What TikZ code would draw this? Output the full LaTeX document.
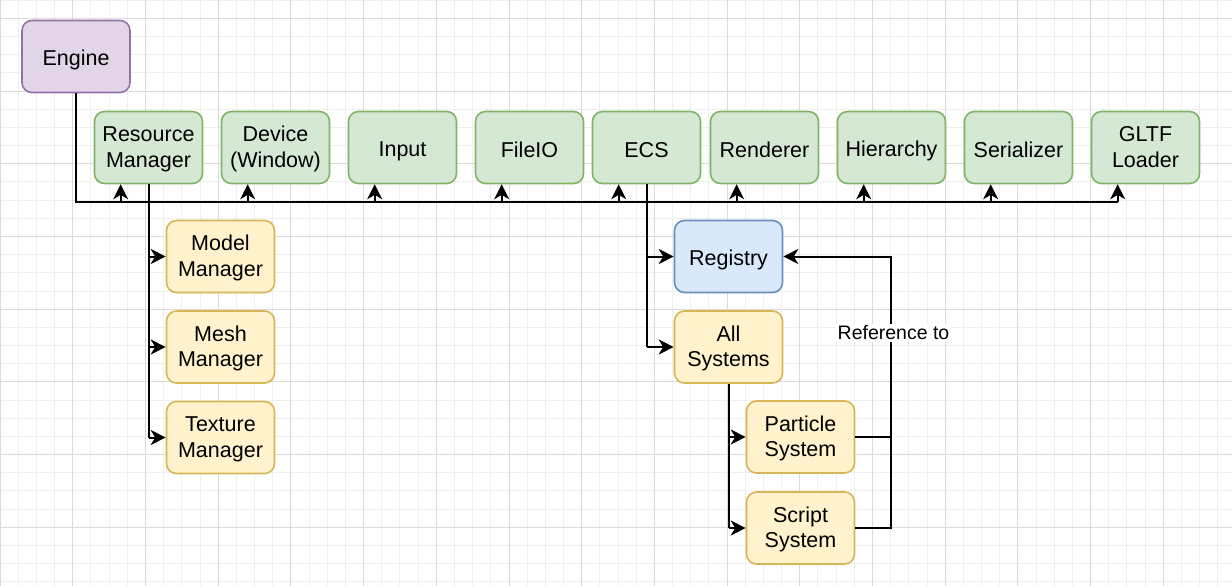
\documentclass[tikz,border=0pt]{standalone}
\usepackage{fontspec}
\setmainfont{Liberation Sans}
\usetikzlibrary{arrows.meta,calc}
\definecolor{gminor}{HTML}{EFEFEF}
\definecolor{gmajor}{HTML}{DADADA}
\definecolor{pfill}{HTML}{E1D5E7}\definecolor{pline}{HTML}{9673A6}
\definecolor{gfill}{HTML}{D5E8D4}\definecolor{gline}{HTML}{82B366}
\definecolor{yfill}{HTML}{FFF2CC}\definecolor{yline}{HTML}{D6B656}
\definecolor{bfill}{HTML}{DAE8FC}\definecolor{bline}{HTML}{6C8EBF}
\newcommand{\boxstrut}{\rule[-2.5pt]{0pt}{24pt}}
\newcommand{\tworows}[2]{\raisebox{-2pt}[\height][\depth]{\begin{tabular}{@{}c@{}}#1\\#2\end{tabular}}}
\tikzset{
  box/.style={rounded corners=10pt, line width=1.6pt, minimum width=108pt, minimum height=72pt,
    align=center, inner sep=2pt, font=\fontsize{21.5}{25.6}\selectfont,
    execute at begin node=\boxstrut, execute at end node=\boxstrut},
  purplebox/.style={box, fill=pfill, draw=pline},
  greenbox/.style={box, fill=gfill, draw=gline},
  yellowbox/.style={box, fill=yfill, draw=yline},
  bluebox/.style={box, fill=bfill, draw=bline},
  conn/.style={line width=2pt, draw=black},
  arr/.style={conn, -{Stealth[length=15pt, width=15pt, inset=4.5pt]}},
  lbl/.style={fill=white, inner sep=2pt, font=\fontsize{19.5}{23}\selectfont}
}
\begin{document}
\begin{tikzpicture}[x=1pt,y=-1pt]
\useasboundingbox (0,0) rectangle (1232,586);
\fill[white] (0,0) rectangle (1232,586);
% grid
\foreach \i in {0,...,68} \draw[gminor, line width=0.8pt] ({\i*18.175},0) -- ({\i*18.175},586);
\foreach \i in {-1,...,32} \draw[gminor, line width=0.8pt] (0,{18.3+\i*18.175}) -- (1232,{18.3+\i*18.175});
\foreach \i in {0,...,17} \draw[gmajor, line width=0.8pt] ({\i*72.7},0) -- ({\i*72.7},586);
\foreach \i in {0,...,8} \draw[gmajor, line width=0.8pt] (0,{18.3+\i*72.7}) -- (1232,{18.3+\i*72.7});

% nodes
\node[purplebox] (engine) at (76,56.5) {Engine};
\node[greenbox] (rm) at (148.5,147.5) {\tworows{Resource}{Manager}};
\node[greenbox] (dev) at (275.5,147.5) {\tworows{Device}{(Window)}};
\node[greenbox] (input) at (402.5,147.5) {Input};
\node[greenbox] (fileio) at (529.5,147.5) {FileIO};
\node[greenbox] (ecs) at (646.5,147.5) {ECS};
\node[greenbox] (rend) at (764.5,147.5) {Renderer};
\node[greenbox] (hier) at (891.5,147.5) {Hierarchy};
\node[greenbox] (ser) at (1018.5,147.5) {Serializer};
\node[greenbox] (gltf) at (1145.5,147.5) {\tworows{GLTF}{Loader}};

\node[yellowbox] (model) at (220.5,256.5) {\tworows{Model}{Manager}};
\node[yellowbox] (mesh) at (220.5,347) {\tworows{Mesh}{Manager}};
\node[yellowbox] (tex) at (220.5,437.5) {\tworows{Texture}{Manager}};

\node[bluebox] (reg) at (728.5,256.5) {Registry};
\node[yellowbox] (all) at (728.5,347) {\tworows{All}{Systems}};
\node[yellowbox] (part) at (800.5,437) {\tworows{Particle}{System}};
\node[yellowbox] (script) at (800.5,528) {\tworows{Script}{System}};

% bus
\coordinate (busend) at ($(gltf.south west)+(27,18)$);
\draw[conn] (engine.south) |- (busend);
\foreach \n in {rm,dev,input,fileio,ecs,rend,hier,ser,gltf}
  \draw[arr] ($(\n.south west)+(27,18)$) -- ($(\n.south west)+(27,0)$);

% resource manager children
\draw[conn] (rm.south) -- (rm.south |- tex.west);
\foreach \n in {model,mesh,tex}
  \draw[arr] (rm.south |- \n.west) -- (\n.west);

% ECS children
\draw[conn] (ecs.south) -- (ecs.south |- all.west);
\foreach \n in {reg,all}
  \draw[arr] (ecs.south |- \n.west) -- (\n.west);

% systems
\draw[conn] (all.south) -- (all.south |- script.west);
\foreach \n in {part,script}
  \draw[arr] (all.south |- \n.west) -- (\n.west);

% reference
\coordinate (rj) at ($(part.east)+(36,0)$);
\draw[arr] (part.east) -- (rj) |- (reg.east);
\draw[conn] (script.east) -| (rj);
\node[lbl] (reflbl) at (893.5,333) {Reference to};
\end{tikzpicture}
\end{document}
